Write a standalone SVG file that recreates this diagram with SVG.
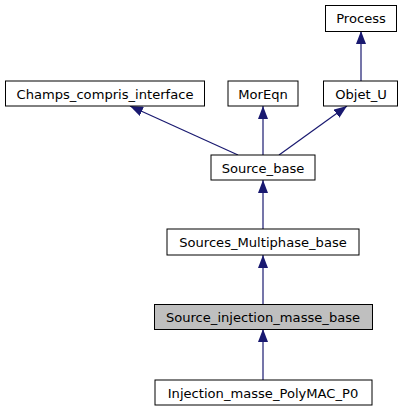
<svg xmlns="http://www.w3.org/2000/svg" width="403" height="411" viewBox="0 0 403 411">
<style>
.node rect{fill:#ffffff;stroke:#000000;stroke-width:1}
.node.hl rect{fill:#bfbfbf}
.node text{font-family:"DejaVu Sans","Liberation Sans",sans-serif;font-size:13.1px;fill:#000000;text-anchor:middle}
.edge{stroke:#191970;stroke-width:1.2;fill:none;marker-end:url(#arr)}
</style>
<defs>
<marker id="arr" viewBox="0 0 13 10" refX="13" refY="5" markerWidth="13" markerHeight="10" markerUnits="userSpaceOnUse" orient="auto">
<path d="M0,0 L13,5 L0,10 z" fill="#191970"/>
</marker>
</defs>
<rect width="403" height="411" fill="#ffffff"/>
<g id="connectors">
<line class="edge" x1="238" y1="155" x2="130" y2="106"/>
<line class="edge" x1="263" y1="155" x2="263" y2="106"/>
<line class="edge" x1="279" y1="155" x2="347" y2="106"/>
<line class="edge" x1="361" y1="81" x2="361" y2="31"/>
<line class="edge" x1="263" y1="229" x2="263" y2="180"/>
<line class="edge" x1="263" y1="304" x2="263" y2="255"/>
<line class="edge" x1="263" y1="380" x2="263" y2="329"/>
</g>
<g id="Process" class="node"><rect x="325.5" y="5.5" width="71" height="26"/><text x="361" y="23">Process</text></g>
<g id="Champs_compris_interface" class="node"><rect x="5.5" y="81" width="199" height="25"/><text x="105" y="98.5">Champs_compris_interface</text></g>
<g id="MorEqn" class="node"><rect x="228" y="81" width="70" height="25"/><text x="263" y="98.5">MorEqn</text></g>
<g id="Objet_U" class="node"><rect x="323.5" y="81" width="74" height="25"/><text x="361" y="98.5">Objet_U</text></g>
<g id="Source_base" class="node"><rect x="211" y="155" width="104" height="25"/><text x="263" y="172.5">Source_base</text></g>
<g id="Sources_Multiphase_base" class="node"><rect x="167" y="229" width="192" height="26"/><text x="263" y="247">Sources_Multiphase_base</text></g>
<g id="Source_injection_masse_base" class="node hl"><rect x="154.5" y="304.5" width="218" height="25"/><text x="263" y="321.5">Source_injection_masse_base</text></g>
<g id="Injection_masse_PolyMAC_P0" class="node"><rect x="155" y="380" width="217" height="25"/><text x="263" y="397.5">Injection_masse_PolyMAC_P0</text></g>
</svg>
